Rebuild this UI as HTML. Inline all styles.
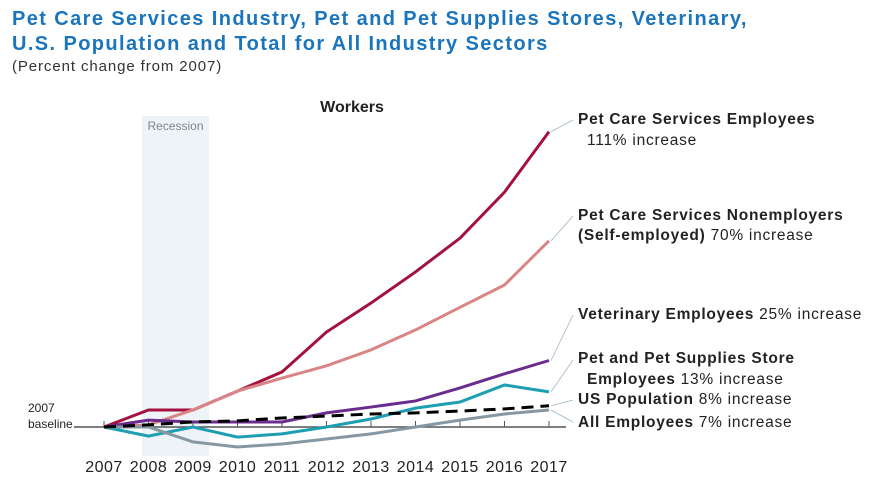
<!DOCTYPE html>
<html><head><meta charset="utf-8"><style>
body{margin:0;background:#fff;width:876px;height:479px;overflow:hidden;font-family:"Liberation Sans",sans-serif}
svg{display:block}
</style></head><body>
<svg id="chart" width="876" height="479">
<text x="12" y="25" font-size="20" font-weight="bold" fill="#1b75bc" letter-spacing="1.4">Pet Care Services Industry, Pet and Pet Supplies Stores, Veterinary,</text>
<text x="12" y="50" font-size="20" font-weight="bold" fill="#1b75bc" letter-spacing="1.4">U.S. Population and Total for All Industry Sectors</text>
<text x="12" y="71" font-size="15" fill="#333" letter-spacing="0.9">(Percent change from 2007)</text>
<rect x="142" y="116" width="67" height="340" fill="#eef3f7"/>
<text x="175.5" y="130" font-size="12" fill="#7a8690" text-anchor="middle">Recession</text>
<text x="352" y="112" font-size="16" font-weight="bold" fill="#222" text-anchor="middle">Workers</text>
<text x="28" y="412" font-size="12" fill="#222">2007</text>
<text x="28" y="428" font-size="12" fill="#222">baseline</text>
<line x1="74" y1="427" x2="566" y2="427" stroke="#555" stroke-width="1.5"/>
<g id="ticks"></g><g id="lines"></g><g id="labels"></g>
</svg>
<script>
const years = [2007,2008,2009,2010,2011,2012,2013,2014,2015,2016,2017];
const petCareEmployees = [0,6.4,6.4,13.5,20.7,35.7,46.6,58.3,71,88.3,111];
const petCareNonemployers = [0,0.8,6.4,13.5,18.4,23,29,36.5,45,53.4,70];
const veterinaryEmployees = [0,2.6,1.9,1.9,1.9,5.3,7.5,9.8,14.7,20,25];
const petStoreEmployees = [0,-3.4,0,-3.8,-2.6,0,3,7.1,9.4,15.8,13.2];
const usPopulation = [0,0.8,1.9,2.3,3.4,4.1,4.9,5.3,6,6.8,8];
const allEmployees = [0,0,-5.6,-7.5,-6.4,-4.5,-2.6,0,2.6,4.9,6.4];
const ns='http://www.w3.org/2000/svg';
function xs(i){return 104+i*44.5;}
function ys(v){return 427-v*2.66;}
const tk=document.getElementById('ticks');
years.forEach((yr,i)=>{
 const l=document.createElementNS(ns,'line');
 l.setAttribute('x1',xs(i));l.setAttribute('x2',xs(i));l.setAttribute('y1',421);l.setAttribute('y2',427);
 l.setAttribute('stroke','#555');l.setAttribute('stroke-width','1');
 
 
 tk.appendChild(l);
 const t=document.createElementNS(ns,'text');
 t.setAttribute('x',xs(i));t.setAttribute('y',472);t.setAttribute('text-anchor','middle');
 t.setAttribute('font-size','16');t.setAttribute('letter-spacing','0.5');t.setAttribute('fill','#222');t.textContent=yr;
 
 
 tk.appendChild(t);
});
const data=[petCareEmployees,petCareNonemployers,veterinaryEmployees,petStoreEmployees,allEmployees,usPopulation];
const names=['pet-care-employees','pet-care-nonemployers','veterinary-employees','pet-store-employees','all-employees','us-population'];
const colors=['#a3123f','#d98585','#6a2c8e','#1d9fb1','#8598a3','#000'];
const lg=document.getElementById('lines');
data.forEach((d,k)=>{
 const p=document.createElementNS(ns,'polyline');
 p.setAttribute('points',d.map((v,i)=>xs(i)+','+ys(v)).join(' '));
 p.setAttribute('fill','none');p.setAttribute('stroke',colors[k]);p.setAttribute('stroke-width','3');
 if(k===5){p.setAttribute('stroke-dasharray','12,7');}
 
 
 lg.appendChild(p);
});
const leaderTargets=[[petCareEmployees,120],[petCareNonemployers,216],[veterinaryEmployees,315],[petStoreEmployees,360],[usPopulation,400],[allEmployees,422]];
const lab=document.getElementById('labels');
leaderTargets.forEach((lt,k)=>{
 const l=document.createElementNS(ns,'line');
 l.setAttribute('x1',xs(10)+2);l.setAttribute('y1',ys(lt[0][10]));l.setAttribute('x2',573);l.setAttribute('y2',lt[1]);
 l.setAttribute('stroke','#9fb6c4');l.setAttribute('stroke-width','0.8');
 
 
 lab.appendChild(l);
});
</script>
<svg style="position:absolute;left:0;top:0" width="876" height="479">
<g font-size="15.5" fill="#222" letter-spacing="0.75">
<text x="578" y="124"><tspan font-weight="bold">Pet Care Services Employees</tspan></text>
<text x="587" y="145">111% increase</text>
<text x="578" y="220"><tspan font-weight="bold">Pet Care Services Nonemployers</tspan></text>
<text x="578" y="240"><tspan font-weight="bold">(Self-employed)</tspan> 70% increase</text>
<text x="578" y="319"><tspan font-weight="bold">Veterinary Employees</tspan> 25% increase</text>
<text x="578" y="363"><tspan font-weight="bold">Pet and Pet Supplies Store</tspan></text>
<text x="587" y="384"><tspan font-weight="bold">Employees</tspan> 13% increase</text>
<text x="578" y="404"><tspan font-weight="bold">US Population</tspan> 8% increase</text>
<text x="578" y="427"><tspan font-weight="bold">All Employees</tspan> 7% increase</text>
</g></svg>
</body></html>
